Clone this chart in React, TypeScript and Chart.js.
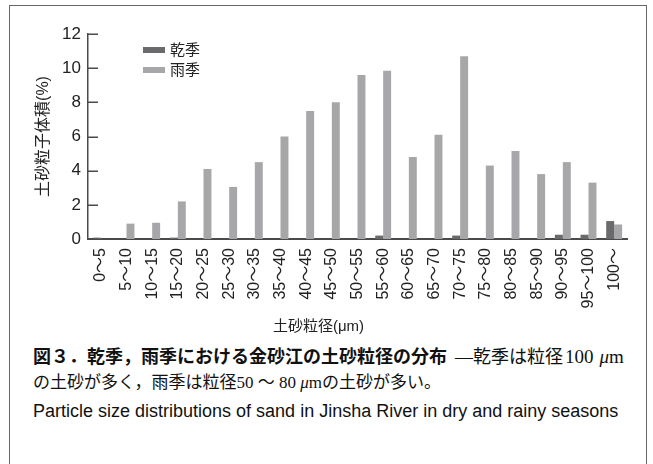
import React, { useEffect, useRef } from "react";
import { Chart, registerables } from "chart.js";

Chart.register(...registerables);

const categories = [
  "0～5", "5～10", "10～15", "15～20", "20～25", "25～30", "30～35",
  "35～40", "40～45", "45～50", "50～55", "55～60", "60～65", "65～70",
  "70～75", "75～80", "80～85", "85～90", "90～95", "95～100", "100～",
];
const drySeason = [0.08, 0, 0, 0.08, 0, 0, 0, 0, 0, 0, 0, 0.2, 0, 0, 0.2, 0, 0, 0, 0.25, 0.25, 1.05];
const rainySeason = [0, 0.9, 0.95, 2.2, 4.1, 3.05, 4.5, 6.0, 7.5, 8.0, 9.6, 9.85, 4.8, 6.1, 10.7, 4.3, 5.15, 3.8, 4.5, 3.3, 0.85];
const seriesNames = ["乾季", "雨季"];
const seriesColors = ["#6a6a6c", "#a7a7aa"];
const yTicks = [0, 2, 4, 6, 8, 10, 12];

const yTitle = "土砂粒子体積(%)";
const xTitle = "土砂粒径(μm)";
const captionBold = "図３．乾季，雨季における金砂江の土砂粒径の分布";
const captionDash = "—";
const captionRest1 = "乾季は粒径";
const captionNum1 = "100";
const captionMu = "μ";
const captionM = "m";
const captionLine2a = "の土砂が多く，雨季は粒径50 ～ 80 ";
const captionLine2b = "の土砂が多い。";
const captionEn = "Particle size distributions of sand in Jinsha River in dry and rainy seasons";

const SANS = "'Liberation Sans', 'Noto Sans CJK JP', sans-serif";
const SERIF = "'Liberation Serif', 'Noto Sans CJK JP', serif";
const AXIS_COLOR = "#4a4a4a";

const inwardTicks = {
  id: "inwardTicks",
  afterDraw(chart: any) {
    const { ctx, chartArea, scales } = chart;
    const y = scales.y;
    ctx.save();
    ctx.strokeStyle = AXIS_COLOR;
    ctx.lineWidth = 1.5;
    y.ticks.forEach((_t: any, i: number) => {
      const py = Math.round(y.getPixelForTick(i)) + 0.25;
      ctx.beginPath();
      ctx.moveTo(chartArea.left, py);
      ctx.lineTo(chartArea.left + 10, py);
      ctx.stroke();
    });
    ctx.restore();
  },
};

export default function App() {
  const ref = useRef<HTMLCanvasElement | null>(null);

  useEffect(() => {
    if (!ref.current) return;
    const chart = new Chart(ref.current, {
      type: "bar",
      data: {
        labels: categories,
        datasets: [
          { label: seriesNames[0], data: drySeason, backgroundColor: seriesColors[0], categoryPercentage: 0.62, barPercentage: 1 },
          { label: seriesNames[1], data: rainySeason, backgroundColor: seriesColors[1], categoryPercentage: 0.62, barPercentage: 1 },
        ],
      },
      options: {
        animation: false,
        responsive: false,
        maintainAspectRatio: false,
        layout: { padding: { left: 0, right: 17, top: 28, bottom: 4 } },
        plugins: {
          legend: { display: false },
          tooltip: { enabled: false },
          title: {
            display: true,
            position: "bottom",
            text: xTitle,
            color: "#222",
            font: { family: SANS, size: 15, weight: "normal", lineHeight: 1.2 },
            padding: 0,
          },
        },
        scales: {
          x: {
            grid: { display: false, drawTicks: false },
            border: { display: true, color: AXIS_COLOR, width: 2 },
            ticks: {
              color: "#222",
              font: { family: SANS, size: 16 },
              maxRotation: 90,
              minRotation: 90,
              autoSkip: false,
              padding: 9,
            },
            afterFit: (s: any) => { s.height = 79; },
          },
          y: {
            min: 0,
            max: 12,
            afterBuildTicks: (s: any) => { s.ticks = yTicks.map((v) => ({ value: v })); },
            grid: { display: false, drawTicks: false },
            border: { display: true, color: AXIS_COLOR, width: 1.5 },
            ticks: { color: "#222", font: { family: SANS, size: 17 }, padding: 7 },
            title: {
              display: true,
              text: yTitle,
              color: "#222",
              font: { family: SANS, size: 16, lineHeight: 1.2 },
              padding: { top: 24, bottom: 0 },
            },
            afterFit: (s: any) => { s.width = 78; },
          },
        },
      },
      plugins: [inwardTicks],
    });
    return () => chart.destroy();
  }, []);

  const legendItem = (i: number, top: number) => (
    <div key={i} style={{ position: "absolute", left: 143, top, height: 20, display: "flex", alignItems: "center" }}>
      <div style={{ width: 22, height: 6, background: seriesColors[i], marginRight: 5 }} />
      <span style={{ fontFamily: SANS, fontSize: 15, color: "#222", lineHeight: "20px" }}>{seriesNames[i]}</span>
    </div>
  );

  return (
    <div style={{ position: "absolute", left: 0, top: 0, width: 653, height: 464, overflow: "hidden", background: "#fff" }}>
      <div style={{ position: "absolute", left: 9, top: 5, width: 638, height: 500, border: "1.5px solid #666", boxSizing: "border-box" }} />
      <canvas ref={ref} width={634} height={334} style={{ position: "absolute", left: 10, top: 6, width: 634, height: 334 }} />
      {legendItem(0, 40)}
      {legendItem(1, 60)}
      <div style={{ position: "absolute", left: 33, top: 346, whiteSpace: "nowrap", fontSize: 18, lineHeight: "22px", color: "#111" }}>
        <span style={{ fontFamily: SANS, fontWeight: "bold" }}>{captionBold}</span>
        <span style={{ fontFamily: SERIF, fontSize: 18, marginLeft: 8 }}>{captionDash}</span>
        <span style={{ fontFamily: SERIF, fontSize: 18 }}>{captionRest1}</span>
        <span style={{ fontFamily: SERIF, fontSize: 19, marginLeft: 2 }}>{captionNum1}</span>
        <span style={{ fontFamily: SERIF, fontSize: 19, marginLeft: 6, fontStyle: "italic" }}>{captionMu}</span>
        <span style={{ fontFamily: SERIF, fontSize: 19 }}>{captionM}</span>
      </div>
      <div style={{ position: "absolute", left: 33, top: 373, whiteSpace: "pre", fontSize: 17, lineHeight: "20px", color: "#111", fontFamily: SERIF }}>
        <span>{captionLine2a}</span>
        <span style={{ fontStyle: "italic" }}>{captionMu}</span>
        <span>{captionM}</span>
        <span>{captionLine2b}</span>
      </div>
      <div style={{ position: "absolute", left: 33, top: 400, whiteSpace: "nowrap", fontSize: 18, lineHeight: "22px", color: "#111", fontFamily: SANS }}>
        {captionEn}
      </div>
    </div>
  );
}
